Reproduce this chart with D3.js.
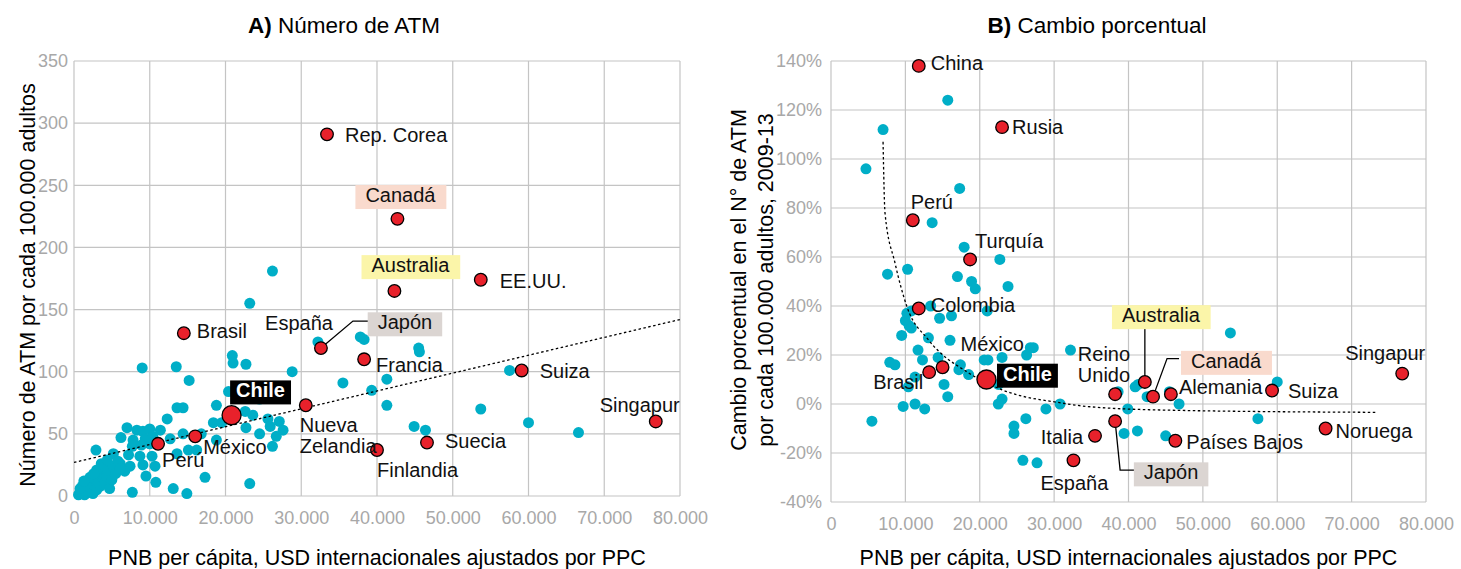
<!DOCTYPE html>
<html>
<head>
<meta charset="utf-8">
<script src="https://cdn.jsdelivr.net/npm/d3@7"></script>
<style>
  body { margin: 0; background: #fff; }
  text { font-family: "Liberation Sans", Arial, sans-serif; }
</style>
</head>
<body>
<div id="chart_container"></div>
<script>

// Global Variables

const totalW = 1461
const totalH = 569
const fontSize = "20px"
const axisTitleSize = "21.5px"
const tickSize = "18px"
const titleSize = "22.5px"
const gridColor = "#c4c4c4"
const tickColor = "#a8a8a8"
const cyan = "#00aec7"
const red = "#e8212b"

// Data: panel A (ATM por cada 100.000 adultos)

const xTicks = [0, 10000, 20000, 30000, 40000, 50000, 60000, 70000, 80000]
const yTicksA = [0, 50, 100, 150, 200, 250, 300, 350]
const yTicksB = [-40, -20, 0, 20, 40, 60, 80, 100, 120, 140]

const namesA = ["Rep. Corea", "Canadá", "Australia", "EE.UU.", "Brasil", "España", "Francia", "Chile",
  "Nueva Zelandia", "Suiza", "Singapur", "Suecia", "Finlandia", "Perú", "México"]
const gdpA = [33400, 42700, 42300, 53700, 14500, 32600, 38300, 20800, 30600, 59100, 76800, 46600, 40000, 11100, 16000]
const atmA = [291, 223, 165, 174, 131, 119, 110, 65, 73, 101, 60, 43, 37, 42, 48]

const otherA = [
  [26200, 181], [23200, 155], [32200, 124], [37800, 128], [38300, 126], [35500, 91], [39300, 85],
  [45500, 119], [45600, 116], [41300, 94], [41300, 73], [44900, 56], [46400, 53], [53700, 70],
  [57500, 101], [60000, 59], [66600, 51], [28800, 100], [20900, 113], [21000, 107], [22700, 106],
  [15200, 93], [9000, 103], [13500, 104], [20400, 84], [24500, 78], [22600, 68], [23600, 65],
  [25600, 62], [27100, 60], [25900, 56], [27600, 53], [26700, 48], [24500, 50], [26200, 40],
  [23200, 10], [13600, 71], [14400, 71], [18800, 73], [12300, 62], [18400, 59], [19500, 59],
  [22700, 55], [18800, 45], [14400, 50], [16800, 50], [12700, 46], [7000, 55], [8300, 53],
  [9100, 52], [10000, 54], [11400, 53], [6200, 47], [7800, 45], [9400, 46], [10400, 48],
  [7700, 40], [8900, 41], [10000, 42], [15100, 37], [16200, 37], [2900, 37], [5200, 34],
  [7200, 33], [8700, 32], [10300, 32], [13600, 34], [4300, 25], [6100, 26], [7400, 24],
  [9100, 25], [10700, 24], [3000, 20], [5200, 18], [6700, 20], [9500, 16], [10800, 11],
  [17300, 15], [13100, 6], [14900, 2], [7700, 3],
  [600, 1], [800, 3], [1000, 2], [1200, 5], [1400, 1], [1500, 4], [1700, 7], [1900, 3],
  [2000, 9], [2200, 6], [2400, 12], [2500, 2], [2700, 8], [2900, 14], [3000, 5], [3200, 11],
  [3400, 17], [3500, 8], [3700, 20], [3900, 13], [4100, 10], [4300, 16], [4500, 21], [4700, 6],
  [5000, 13], [5200, 24], [5500, 18], [5800, 28], [6100, 22], [1100, 8], [1600, 10], [2100, 15],
  [3000, 21], [800, 6], [2600, 18], [3600, 26], [4400, 29], [1300, 12]
]

const trendA = [[0, 27], [80000, 142]]

// Data: panel B (cambio porcentual 2009-13)

const namesB = ["China", "Rusia", "Perú", "Turquía", "Colombia", "México", "Brasil", "Chile", "Reino Unido",
  "Australia", "Canadá", "Alemania", "Suiza", "Singapur", "Japón", "Italia", "Países Bajos", "Noruega", "España"]
const gdpB = [11800, 23000, 11000, 18700, 11800, 15000, 13200, 20900, 38200, 42200, 43300, 45700, 59300,
  76800, 38200, 35500, 46300, 66500, 32600]
const chgB = [138, 113, 75, 59, 39, 15, 13, 10, 4, 9, 3, 4, 5.5, 12.4, -7, -13, -15, -10, -23]

const otherB = [
  [15700, 124], [7000, 112], [4700, 96], [17300, 88], [13600, 74], [17900, 64], [22700, 59],
  [10300, 55], [7600, 53], [17000, 52], [18900, 50], [19400, 47], [23800, 48], [13400, 40],
  [21000, 38], [10200, 37], [10800, 38], [10000, 34], [10500, 32], [10800, 31], [14600, 35],
  [16200, 36], [9500, 28], [13100, 27], [16000, 26], [11700, 22], [12300, 18], [14400, 19],
  [7900, 17], [8600, 16], [17400, 16], [17200, 14], [18500, 12], [20600, 18], [21100, 18],
  [23000, 19], [26800, 23], [27200, 23], [26300, 20], [32200, 22], [11300, 11], [10400, 7],
  [15200, 8], [15700, 3], [9700, -1], [11300, 0], [12600, -2], [5500, -7], [22500, 8], [23000, 2],
  [22500, 0], [28900, -2], [30800, 0], [26200, -6], [24600, -9], [24600, -12], [25800, -23],
  [27700, -24], [53700, 29], [41300, 8], [40900, 7], [38600, 5], [42500, 3], [45500, 5],
  [46800, 0], [60000, 9], [39900, -2], [57400, -6], [39400, -12], [41200, -11], [45000, -13]
]

const trendB = [[7000, 107], [7260, 78], [8600, 57.6], [10200, 39.8], [13100, 26.2], [18500, 12.7],
  [23000, 5.8], [31000, 0.4], [34400, -1], [45000, -2.5], [73200, -3.4]]

// Label layout (offsets in px from the point)

const labelsA = [
  { pt: "Rep. Corea", text: "Rep. Corea", dx: 18, dy: 0 },
  { pt: "Canadá", text: "Canadá", dx: 3, dy: -24, anchor: "middle", box: "#f9dacd" },
  { pt: "Australia", text: "Australia", dx: 16, dy: -26, anchor: "middle", box: "#fbf5a9" },
  { pt: "EE.UU.", text: "EE.UU.", dx: 19, dy: 1 },
  { pt: "Brasil", text: "Brasil", dx: 13, dy: -2 },
  { pt: "España", text: "España", dx: 12, dy: -25, anchor: "end" },
  { pt: "España", text: "Japón", dx: 84, dy: -26, anchor: "middle", box: "#dbd5d2", leader: [[32, -27], [49, -27]] },
  { pt: "Francia", text: "Francia", dx: 12, dy: 6 },
  { pt: "Chile", text: "Chile", dx: 29, dy: -25, anchor: "middle", box: "#000", dark: true },
  { pt: "Nueva Zelandia", text: "Nueva\nZelandia", dx: -6, dy: 20 },
  { pt: "Suiza", text: "Suiza", dx: 18, dy: 0 },
  { pt: "Singapur", text: "Singapur", dx: 24, dy: -17, anchor: "end" },
  { pt: "Suecia", text: "Suecia", dx: 18, dy: -2 },
  { pt: "Finlandia", text: "Finlandia", dx: 0, dy: 20 },
  { pt: "Perú", text: "Perú", dx: 4, dy: 16 },
  { pt: "México", text: "México", dx: 8, dy: 10 }
]

const labelsB = [
  { pt: "China", text: "China", dx: 12, dy: -3 },
  { pt: "Rusia", text: "Rusia", dx: 10, dy: 0 },
  { pt: "Perú", text: "Perú", dx: 19, dy: -18, anchor: "middle" },
  { pt: "Turquía", text: "Turquía", dx: 5, dy: -19 },
  { pt: "Colombia", text: "Colombia", dx: 12, dy: -4 },
  { pt: "México", text: "México", dx: 18, dy: -23 },
  { pt: "Brasil", text: "Brasil", dx: -6, dy: 10, anchor: "end" },
  { pt: "Chile", text: "Chile", dx: 41, dy: -6, anchor: "middle", box: "#000", dark: true },
  { pt: "Reino Unido", text: "Reino\nUnido", dx: 15, dy: -40, anchor: "end" },
  { pt: "Australia", text: "Australia", dx: 16, dy: -67, anchor: "middle", box: "#fbf5a9", leader: [[0, -54]] },
  { pt: "Canadá", text: "Canadá", dx: 73, dy: -36, anchor: "middle", box: "#f9dacd", leader: [[14, -38], [26, -38]] },
  { pt: "Alemania", text: "Alemania", dx: 8, dy: -7 },
  { pt: "Suiza", text: "Suiza", dx: 16, dy: 0 },
  { pt: "Singapur", text: "Singapur", dx: 23, dy: -21, anchor: "end" },
  { pt: "Japón", text: "Japón", dx: 56, dy: 51, anchor: "middle", box: "#dbd5d2", leader: [[5, 49], [21, 49]] },
  { pt: "Italia", text: "Italia", dx: -12, dy: 1, anchor: "end" },
  { pt: "Países Bajos", text: "Países Bajos", dx: 11, dy: 1 },
  { pt: "Noruega", text: "Noruega", dx: 10, dy: 2 },
  { pt: "España", text: "España", dx: 1, dy: 22, anchor: "middle" }
]

const fmtN = d3.formatLocale({ decimal: ",", thousands: ".", grouping: [3], currency: ["", ""] }).format(",")

const svg = d3.select("#chart_container").append("svg")
  .attr("width", totalW)
  .attr("height", totalH)

// helper to draw one panel

function drawPanel(opt) {
  const x = d3.scaleLinear().domain([0, 80000]).range([0, opt.w])
  const y = d3.scaleLinear().domain(opt.yDomain).range([opt.h, 0])

  const g = svg.append("g").attr("transform", `translate(${opt.left}, ${opt.top})`)

  // gridlines
  g.selectAll(".xgrid")
    .data(xTicks)
    .join("line")
    .attr("x1", d => x(d)).attr("x2", d => x(d))
    .attr("y1", 0).attr("y2", opt.h)
    .attr("stroke", gridColor).attr("stroke-width", 1.2)

  g.selectAll(".ygrid")
    .data(opt.yTicks)
    .join("line")
    .attr("x1", 0).attr("x2", opt.w)
    .attr("y1", d => y(d)).attr("y2", d => y(d))
    .attr("stroke", gridColor).attr("stroke-width", 1.2)

  // axes
  g.append("g")
    .attr("transform", `translate(0, ${opt.h})`)
    .style("font-size", tickSize)
    .call(d3.axisBottom(x).tickValues(xTicks).tickFormat(fmtN).tickSize(0).tickPadding(15))
    .call(a => a.select(".domain").remove())
    .selectAll(".tick text").attr("fill", tickColor).style("font-family", "Liberation Sans, Arial, sans-serif")

  g.append("g")
    .style("font-size", tickSize)
    .call(d3.axisLeft(y).tickValues(opt.yTicks).tickFormat(opt.yFormat).tickSize(0).tickPadding(opt.yPad))
    .call(a => a.select(".domain").remove())
    .selectAll(".tick text").attr("fill", tickColor).style("font-family", "Liberation Sans, Arial, sans-serif")

  // other countries
  g.selectAll(".other")
    .data(opt.others)
    .join("circle")
    .attr("cx", d => x(d[0]))
    .attr("cy", d => y(d[1]))
    .attr("r", 5.5)
    .attr("fill", cyan)

  // trend
  g.append("path")
    .datum(opt.trend)
    .attr("fill", "none")
    .attr("stroke", "#000")
    .attr("stroke-width", 1.3)
    .attr("stroke-dasharray", "2.5,2.5")
    .attr("d", d3.line().x(d => x(d[0])).y(d => y(d[1])).curve(d3.curveMonotoneX))

  const pts = opt.names.map((n, i) => ({ name: n, gdp: opt.gdp[i], val: opt.vals[i] }))
  const pos = n => {
    const p = pts.find(d => d.name === n)
    return [x(p.gdp), y(p.val)]
  }

  // leader lines
  opt.labels.filter(l => l.leader).forEach(l => {
    const [cx, cy] = pos(l.pt)
    const line = [[cx, cy]].concat(l.leader.map(o => [cx + o[0], cy + o[1]]))
    g.append("path")
      .attr("d", d3.line()(line))
      .attr("fill", "none")
      .attr("stroke", "#000")
      .attr("stroke-width", 1.3)
  })

  // highlighted countries
  g.selectAll(".hl")
    .data(pts)
    .join("circle")
    .attr("cx", d => x(d.gdp))
    .attr("cy", d => y(d.val))
    .attr("r", d => d.name === "Chile" ? 9.5 : 6.3)
    .attr("fill", red)
    .attr("stroke", "#000")
    .attr("stroke-width", 1.3)

  // labels
  opt.labels.forEach(l => {
    const [cx, cy] = pos(l.pt)
    const lab = g.append("g")
    const t = lab.append("text")
      .attr("text-anchor", l.anchor || "start")
      .style("font-size", fontSize)
      .style("font-weight", l.dark ? "bold" : "normal")
      .attr("fill", l.dark ? "#fff" : "#111")
    l.text.split("\n").forEach((s, k) => {
      t.append("tspan")
        .attr("x", cx + l.dx)
        .attr("y", cy + l.dy + k * 21)
        .attr("dy", "0.36em")
        .text(s)
    })
    if (l.box) {
      const b = t.node().getBBox()
      const px = l.dark ? 6 : 10
      lab.insert("rect", "text")
        .attr("x", b.x - px)
        .attr("y", b.y + 1)
        .attr("width", b.width + px * 2)
        .attr("height", b.height + 2)
        .attr("fill", l.box)
    }
  })

  // titles
  svg.append("text")
    .attr("x", opt.titleX)
    .attr("y", 33)
    .attr("text-anchor", "middle")
    .style("font-size", titleSize)
    .call(t => t.append("tspan").style("font-weight", "bold").text(opt.letter))
    .call(t => t.append("tspan").text(" " + opt.title))

  svg.append("text")
    .attr("x", opt.left + opt.w / 2)
    .attr("y", 565)
    .attr("text-anchor", "middle")
    .style("font-size", axisTitleSize)
    .text("PNB per cápita, USD internacionales ajustados por PPC")

  const yt = svg.append("text")
    .attr("transform", `translate(${opt.yTitleX}, ${opt.yTitleY}) rotate(-90)`)
    .attr("text-anchor", "middle")
    .style("font-size", axisTitleSize)
  opt.yTitle.forEach((s, k) => {
    yt.append("tspan").attr("x", 0).attr("y", k * 27).attr("dy", "0.36em").text(s)
  })
}

drawPanel({
  left: 74, top: 61, w: 606, h: 435,
  yDomain: [0, 350], yTicks: yTicksA, yFormat: d => d, yPad: 6,
  others: otherA, trend: trendA,
  names: namesA, gdp: gdpA, vals: atmA, labels: labelsA,
  letter: "A)", title: "Número de ATM", titleX: 344,
  yTitle: ["Número de ATM por cada 100.000 adultos"], yTitleX: 27, yTitleY: 285
})

drawPanel({
  left: 831, top: 61, w: 595, h: 441,
  yDomain: [-40, 140], yTicks: yTicksB, yFormat: d => d + "%", yPad: 9,
  others: otherB, trend: trendB,
  names: namesB, gdp: gdpB, vals: chgB, labels: labelsB,
  letter: "B)", title: "Cambio porcentual", titleX: 1097,
  yTitle: ["Cambio porcentual en el N° de ATM", "por cada 100.000 adultos, 2009-13"], yTitleX: 738, yTitleY: 280
})

</script>
</body>
</html>
